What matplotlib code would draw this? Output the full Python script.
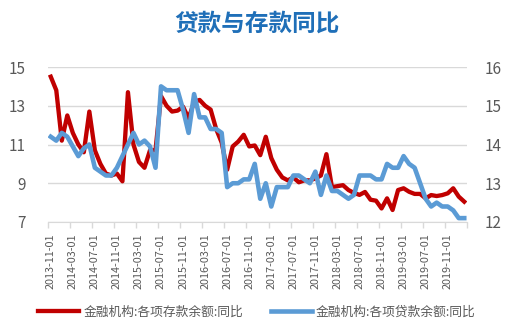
import matplotlib
matplotlib.use('Agg')
import matplotlib.pyplot as plt
import numpy as np
import pandas as pd

plt.rcParams['font.family'] = ['Noto Sans CJK SC', 'DejaVu Sans']

# Monthly categories, 2013-11 through 2020-02
months = pd.date_range('2013-11-01', periods=76, freq='MS').strftime('%Y-%m-%d').tolist()

# Deposit balance YoY growth (%), left axis
deposit_yoy = [
    14.5, 13.8, 11.2, 12.5, 11.6, 11.0, 10.6, 12.7, 10.7, 10.0,
    9.5, 9.4, 9.5, 9.1, 13.7, 11.0, 10.1, 9.8, 10.7, 10.7,
    13.5, 13.0, 12.7, 12.75, 12.95, 12.35, 13.2, 13.3, 13.0, 12.8,
    11.8, 11.1, 9.7, 10.9, 11.15, 11.5, 10.9, 10.95, 10.45, 11.4,
    10.3, 9.7, 9.3, 9.15, 9.3, 9.05, 9.15, 9.15, 9.25, 9.4,
    10.5, 8.8, 8.85, 8.9, 8.65, 8.5, 8.4, 8.55, 8.15, 8.1,
    7.7, 8.22, 7.62, 8.65, 8.74, 8.56, 8.45, 8.45, 8.22, 8.39,
    8.34, 8.39, 8.48, 8.74, 8.31, 8.05,
]

# Loan balance YoY growth (%), right axis
loan_yoy = [
    14.2, 14.1, 14.3, 14.2, 13.95, 13.7, 13.9, 14.0, 13.4, 13.3,
    13.2, 13.2, 13.4, 13.7, 14.0, 14.3, 14.0, 14.1, 13.95, 13.4,
    15.5, 15.4, 15.4, 15.4, 14.9, 14.3, 15.3, 14.7, 14.7, 14.4,
    14.4, 14.3, 12.9, 13.0, 13.0, 13.1, 13.1, 13.5, 12.6, 13.0,
    12.4, 12.9, 12.9, 12.9, 13.2, 13.2, 13.1, 13.0, 13.3, 12.7,
    13.2, 12.8, 12.8, 12.7, 12.6, 12.7, 13.2, 13.2, 13.2, 13.1,
    13.1, 13.5, 13.4, 13.4, 13.7, 13.5, 13.4, 13.0, 12.6, 12.4,
    12.5, 12.4, 12.4, 12.3, 12.1, 12.1,
]

left_ticks = [7, 9, 11, 13, 15]
right_ticks = [12, 13, 14, 15, 16]
deposit_name = '金融机构:各项存款余额:同比'
loan_name = '金融机构:各项贷款余额:同比'
title = '贷款与存款同比'

RED = '#C00000'
BLUE = '#5B9BD5'
TXT = '#595959'
GRID = '#D9D9D9'

W, H = 514, 333
fig = plt.figure(figsize=(W / 100, H / 100), dpi=100)
ax = fig.add_axes([48 / W, 1 - 222 / H, (467 - 48) / W, (222 - 67) / H])
ax2 = ax.twinx()

x = np.arange(len(months))
l1, = ax.plot(x, deposit_yoy, color=RED, lw=3.1, solid_joinstyle='round',
              label=deposit_name)
l2, = ax2.plot(x, loan_yoy, color=BLUE, lw=3.3, solid_joinstyle='round',
               label=loan_name)

ax.set_xlim(-0.5, len(months) - 0.5)
ax.set_ylim(left_ticks[0], left_ticks[-1])
ax.set_yticks(left_ticks)
ax2.set_ylim(right_ticks[0], right_ticks[-1])
ax2.set_yticks(right_ticks)

ax.grid(axis='y', color=GRID, lw=1)
ax.set_axisbelow(True)
for a in (ax, ax2):
    for s in ('top', 'left', 'right', 'bottom'):
        a.spines[s].set_visible(False)
ax.spines['bottom'].set_visible(True)
ax.spines['bottom'].set_color(GRID)

# Category labels every 4 months, tick marks on the category boundaries
ax.set_xticks(x[::4], labels=months[::4], rotation=90)
ax.set_xticks(np.arange(-0.5, len(months), 4), minor=True)
ax.tick_params(axis='x', which='major', length=0, pad=8, labelsize=7.8, labelcolor=TXT)
ax.tick_params(axis='x', which='minor', length=4, color=GRID, width=1)

ax.tick_params(axis='y', length=0, pad=16, labelsize=11, labelcolor=TXT)
ax2.tick_params(axis='y', length=0, pad=13, labelsize=11, labelcolor=TXT)

fig.text(0.5, 1 - 24 / H, title, ha='center', va='center', fontsize=17,
         fontweight='bold', color='#1F6FB8')

fig.legend([l1, l2], [deposit_name, loan_name], loc='center',
           bbox_to_anchor=(0.5, 1 - 312 / H), ncol=2, frameon=False,
           fontsize=9.2, handlelength=3.2, handletextpad=0.3,
           columnspacing=2.2, labelcolor=TXT)

fig.savefig('out.png', dpi=100)
